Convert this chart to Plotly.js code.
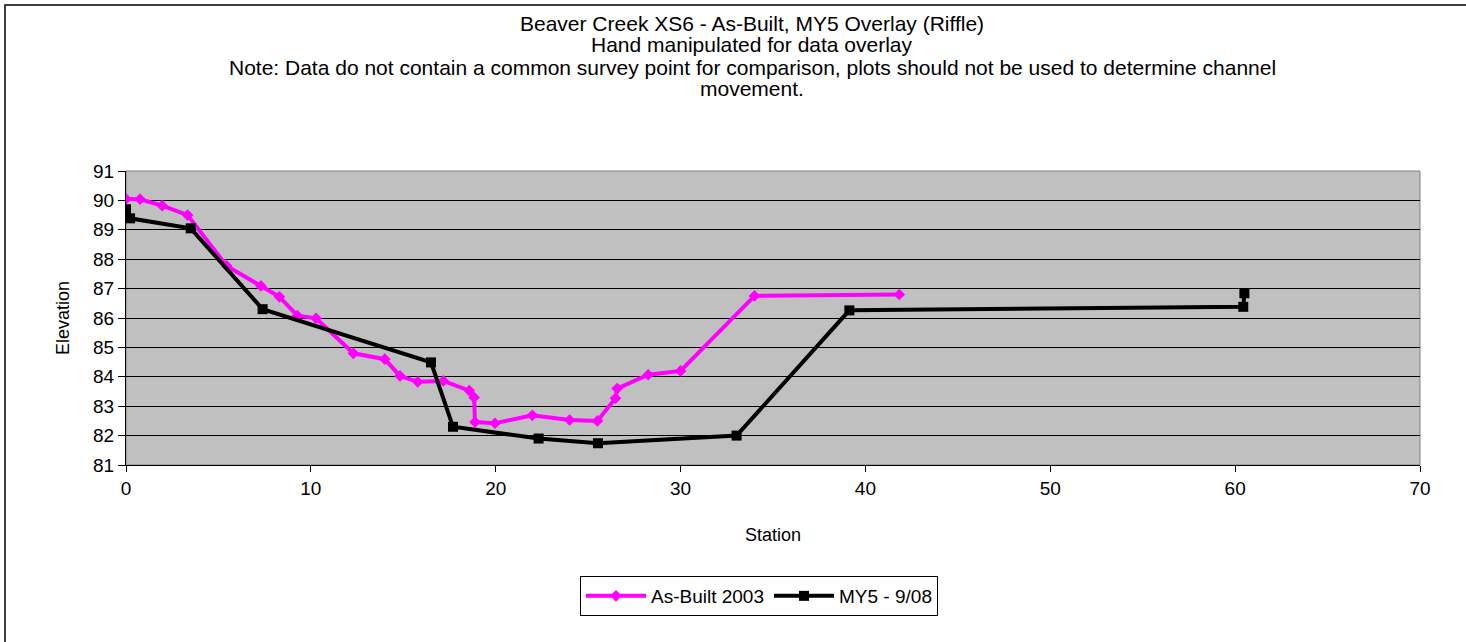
<!DOCTYPE html>
<html>
<head>
<meta charset="utf-8">
<script src="https://cdn.plot.ly/plotly-3.0.1.min.js"></script>
<style>
html,body{margin:0;padding:0;background:#fff;}
#chart{width:1466px;height:642px;}
</style>
</head>
<body>
<div id="chart"></div>
<script>
// As-Built 2003
const asBuiltStation = [0, 0.76, 1.96, 3.33, 5.45, 7.3, 8.3, 9.27, 10.28, 12.3, 14.0, 14.82, 15.78, 17.17, 18.57, 18.83, 18.88, 19.96, 21.98, 24.0, 25.5, 26.48, 26.57, 28.25, 30.0, 34.0, 41.83];
const asBuiltElev    = [90.05, 90.04, 89.82, 89.5, 87.77, 87.09, 86.72, 86.08, 85.99, 84.8, 84.6, 84.03, 83.83, 83.86, 83.53, 83.3, 82.46, 82.42, 82.69, 82.53, 82.5, 83.27, 83.6, 84.07, 84.2, 86.75, 86.8];
// MY5 - 9/08
const my5Station = [0, 0.22, 3.5, 7.39, 16.5, 17.69, 22.32, 25.53, 33.03, 39.13, 60.44, 60.5];
const my5Elev    = [89.7, 89.39, 89.05, 86.3, 84.49, 82.3, 81.9, 81.74, 82.0, 86.26, 86.38, 86.84];

const seriesNames = ["As-Built 2003", "MY5 - 9/08"];
const titleLines = [
  "Beaver Creek XS6 - As-Built, MY5 Overlay (Riffle)",
  "Hand manipulated for data overlay",
  "Note: Data do not contain a common survey point for comparison, plots should not be used to determine channel",
  "movement."
];
const xTicks = [0, 10, 20, 30, 40, 50, 60, 70];
const yTicks = [81, 82, 83, 84, 85, 86, 87, 88, 89, 90, 91];

const FONT = "Liberation Sans, Arial, sans-serif";

const traces = [
  {
    x: asBuiltStation, y: asBuiltElev, name: seriesNames[0],
    type: "scatter", mode: "lines+markers",
    line: {color: "#FF00FF", width: 4},
    marker: {symbol: "diamond", size: 9, color: "#FF00FF"}
  },
  {
    x: my5Station, y: my5Elev, name: seriesNames[1],
    type: "scatter", mode: "lines+markers",
    line: {color: "#000000", width: 4},
    marker: {symbol: "square", size: 10, color: "#000000"}
  }
];

const L = 126, R = 1420, T = 171, B = 465;
const ph = B - T;
function py(p){ return (B - p) / ph; }
function px(p){ return (p - L) / (R - L); }

const titleY = [23, 45, 67, 89];
const annotations = titleLines.map((t, i) => ({
  text: t, xref: "paper", yref: "paper",
  x: px(752), y: py(titleY[i]), xanchor: "center", yanchor: "middle",
  showarrow: false, font: {family: FONT, size: 21, color: "#000"}
}));

const layout = {
  width: 1466, height: 642,
  margin: {l: L, r: 1466 - R, t: T, b: 642 - B},
  paper_bgcolor: "#ffffff",
  plot_bgcolor: "#C0C0C0",
  font: {family: FONT, size: 18, color: "#000"},
  showlegend: true,
  legend: {
    orientation: "h", x: px(759), xanchor: "center", y: py(596), yanchor: "middle",
    bordercolor: "#000", borderwidth: 1, bgcolor: "#fff",
    font: {family: FONT, size: 19, color: "#000"},
    itemwidth: 60, tracegroupgap: 0
  },
  xaxis: {
    range: [0, 70], tickvals: xTicks, ticktext: xTicks.map(String),
    showgrid: false, zeroline: false,
    showline: true, linecolor: "#000", linewidth: 1,
    ticks: "outside", ticklen: 6, tickcolor: "#000",
    tickfont: {family: FONT, size: 19},
    title: {text: "Station", font: {family: FONT, size: 18}, standoff: 30}
  },
  yaxis: {
    range: [81, 91], tickvals: yTicks, ticktext: yTicks.map(String),
    showgrid: true, gridcolor: "#000", gridwidth: 1, zeroline: false,
    showline: true, linecolor: "#000", linewidth: 1,
    ticks: "outside", ticklen: 7, tickcolor: "#000",
    tickfont: {family: FONT, size: 19},
    title: {text: "Elevation", font: {family: FONT, size: 18}, standoff: 18}
  },
  annotations: annotations,
  shapes: [
    {type: "rect", xref: "paper", yref: "paper", x0: 0, x1: 1, y0: 0, y1: 1,
     line: {color: "#808080", width: 1}, layer: "below"},
    {type: "rect", xref: "paper", yref: "paper", x0: px(5), x1: px(1475), y0: py(650), y1: py(5),
     line: {color: "#000", width: 1.5}, fillcolor: "rgba(0,0,0,0)"}
  ]
};

Plotly.newPlot("chart", traces, layout, {staticPlot: true, displayModeBar: false});
</script>
</body>
</html>
